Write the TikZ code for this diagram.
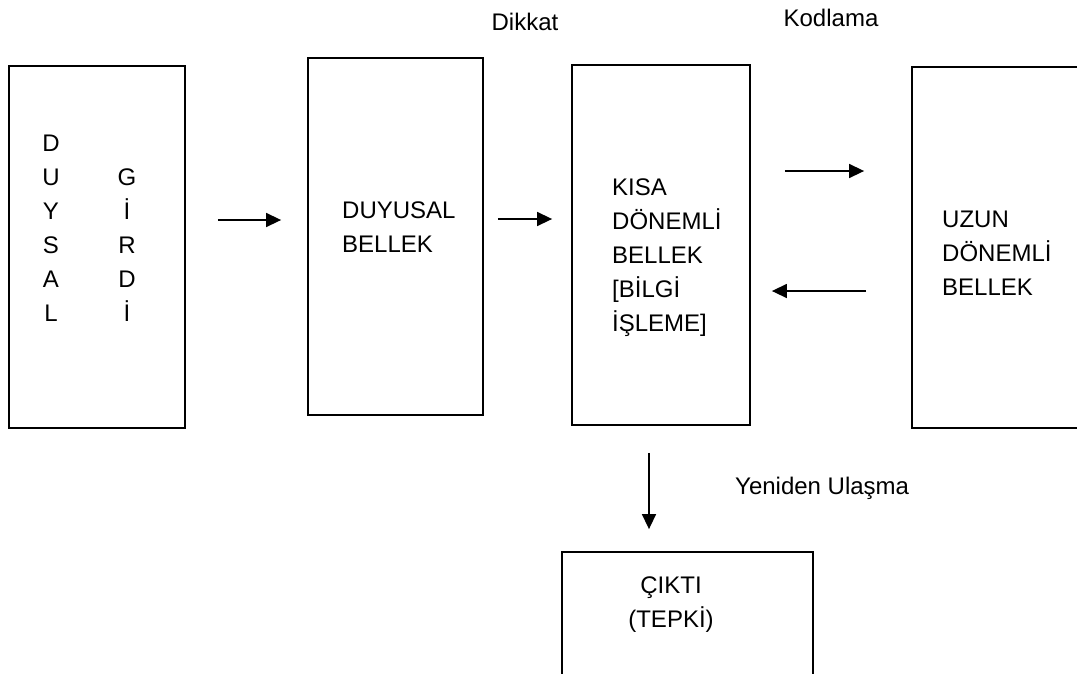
\documentclass[tikz,border=0pt]{standalone}
\usepackage{fontspec}
\setmainfont{Liberation Sans}
\usepackage{tikz}
\usetikzlibrary{positioning, arrows.meta}

\begin{document}
\begin{tikzpicture}[x=1pt, y=-1pt,
    box/.style={draw, line width=1.8pt, rectangle, inner sep=0pt},
    txt/.style={inner sep=0pt, font=\fontsize{24}{34}\selectfont},
    arr/.style={line width=1.5pt, -{Triangle[length=15pt, width=14pt]}}]
      \useasboundingbox (0,0) rectangle (1077,673);
      \clip (0,0) rectangle (1077,673);
      \fill[white] (0,0) rectangle (1077,673);

      % boxes
      \node[box, minimum width=176pt, minimum height=362pt] (duyg) at (97,247) {};
      \node[box, minimum width=175pt, minimum height=357pt] (dbel) at (395.5,236.5) {};
      \node[box, minimum width=178pt, minimum height=360pt] (kisa) at (661,245) {};
      \node[box, minimum width=178pt, minimum height=361pt] (uzun) at (1001,247.5) {};
      \node[box, minimum width=251pt, minimum height=148pt] (cikti) at (687.5,626) {};

      % box texts
      \node[txt, align=center] (duyl) at (51,228) {D\\U\\Y\\S\\A\\L};
      \node[txt, align=center] (girdi) at (127,245) {G\\İ\\R\\D\\İ};
      \node[txt, align=left, anchor=west] (dbeltxt) at (342,227) {DUYUSAL\\BELLEK};
      \node[txt, align=left, anchor=west] (kisatxt) at (612,258) {KISA\\DÖNEMLİ\\BELLEK\\{}[BİLGİ\\İŞLEME]};
      \node[txt, align=left, anchor=west] (uzuntxt) at (942,253) {UZUN\\DÖNEMLİ\\BELLEK};
      \node[txt, align=center] (ciktitxt) at (671,605) {ÇIKTI\\(TEPKİ)};

      % labels
      \node[txt] (dikkat) at (525,22) {Dikkat};
      \node[txt] (kodlama) at (831,18) {Kodlama};
      \node[txt, anchor=west] (ulasma) at (735,488) {Yeniden Ulaşma};

      % arrows
      \draw[arr, shorten <=32pt, shorten >=26pt] (duyg.east |- 0,220) -- (dbel.west |- 0,220);
      \draw[arr, shorten <=14pt, shorten >=19pt] (dbel.east |- 0,219) -- (kisa.west |- 0,219);
      \draw[arr, shorten <=34pt, shorten >=47pt] (kisa.east |- 0,171) -- (uzun.west |- 0,171);
      \draw[arr, shorten <=45pt, shorten >=21pt] (uzun.west |- 0,291) -- (kisa.east |- 0,291);
      \draw[arr, shorten <=27pt, shorten >=22pt] (kisa.south -| 649,0) -- (cikti.north -| 649,0);
\end{tikzpicture}
\end{document}
